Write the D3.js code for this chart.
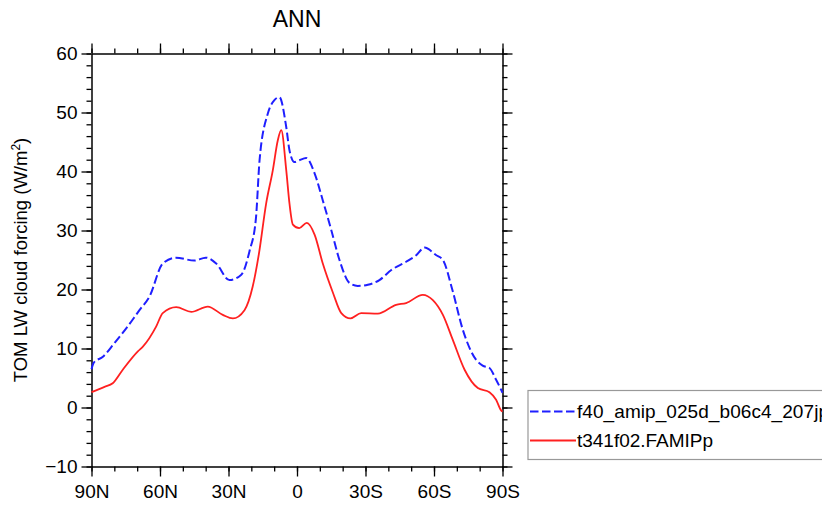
<!DOCTYPE html>
<html>
<head>
<meta charset="utf-8">
<script src="https://cdn.jsdelivr.net/npm/d3@7"></script>
<style>
  body { margin: 0; background: #fff; overflow: hidden; }
  svg { display: block; font-family: "Liberation Sans", Arial, Helvetica, sans-serif; }
</style>
</head>
<body>
<div id="chart"></div>
<script>
// latitudes (N positive) and TOM LW cloud forcing
const latBlue = [90, 89, 85, 80, 74.8, 69, 64.6, 58.8, 53, 45, 40, 35.4, 29.6, 24.4, 20.8, 18, 16.4, 12.8, 9.9, 7.7, 4.7, 3.3, 1.1, -1, -4, -7.7, -11.3, -15, -18.6, -23, -26.6, -31, -36.1, -41.3, -47.8, -52.2, -55.8, -61, -63.9, -68, -72.6, -78.4, -81.3, -84.3, -87.2, -89.4, -90];
const valBlue = [6.5, 7.6, 8.6, 10.9, 13.4, 16.5, 18.8, 24.4, 25.4, 24.9, 25.4, 24.4, 21.6, 22.5, 26.5, 32, 41.9, 49.8, 52.1, 52.6, 47.5, 43.6, 41.6, 41.9, 42.3, 39.7, 35.1, 30.1, 25, 21.1, 20.6, 20.8, 21.6, 23.3, 24.7, 25.8, 27.1, 25.8, 25, 20, 13.2, 8.1, 7.1, 6.7, 4.7, 3.0, 2.5];

const latRed = [90, 89.4, 84.3, 80.7, 76.3, 69.7, 67.5, 61.7, 58.8, 52.9, 46.3, 39.1, 32.5, 28.1, 23, 19.4, 16.7, 13.5, 10.6, 8.4, 6.9, 4.7, 3.3, 1.8, -1, -4.3, -7.7, -11.3, -15.7, -19.4, -23.4, -28.1, -35.4, -43.4, -47.8, -55.1, -59.5, -63.9, -68.2, -73.4, -79.2, -84.3, -87.2, -89.4, -90];
const valRed = [2.6, 2.7, 3.5, 4.1, 6.4, 9.5, 10.3, 13.7, 16, 17, 16.2, 17.1, 15.7, 15.1, 16.5, 20.5, 26, 34.6, 40.2, 45.3, 47, 40.2, 34.6, 31, 30.4, 31.3, 29.3, 24.4, 19.5, 16, 15.1, 16, 15.9, 17.4, 17.7, 19.1, 18.2, 15.7, 11.5, 6.4, 3.3, 2.6, 1.3, -0.5, -0.7];

const seriesNames = ["f40_amip_025d_b06c4_207jp", "t341f02.FAMIPp"];
const xTicks = [90, 60, 30, 0, -30, -60, -90];
const xTickLabels = ["90N", "60N", "30N", "0", "30S", "60S", "90S"];
const yTicks = [-10, 0, 10, 20, 30, 40, 50, 60];

const width = 822, height = 510;
const margin = {top: 53.5, right: 319.5, bottom: 43.5, left: 91.5};

const svg = d3.select("#chart").append("svg")
    .attr("width", width)
    .attr("height", height);

const x = d3.scaleLinear()
    .domain([90, -90])
    .range([margin.left, width - margin.right]);

const y = d3.scaleLinear()
    .domain([-10, 60])
    .range([height - margin.bottom, margin.top]);

const minorX = d3.range(90, -91, -10);
const minorY = d3.range(-10, 61, 2);

// axes, ticks pointing outward on every side
svg.append("g")
    .attr("transform", `translate(0,${height - margin.bottom})`)
    .call(d3.axisBottom(x).tickValues(minorX).tickSize(5).tickFormat(""))
    .call(g => g.select(".domain").remove());
svg.append("g")
    .attr("transform", `translate(0,${height - margin.bottom})`)
    .call(d3.axisBottom(x).tickValues(xTicks).tickSize(10).tickPadding(8).tickSizeOuter(0)
      .tickFormat((d, i) => xTickLabels[i]));

svg.append("g")
    .attr("transform", `translate(0,${margin.top})`)
    .call(d3.axisTop(x).tickValues(minorX).tickSize(5).tickFormat(""))
    .call(g => g.select(".domain").remove());
svg.append("g")
    .attr("transform", `translate(0,${margin.top})`)
    .call(d3.axisTop(x).tickValues(xTicks).tickSize(10).tickSizeOuter(0).tickFormat(""));

svg.append("g")
    .attr("transform", `translate(${margin.left},0)`)
    .call(d3.axisLeft(y).tickValues(minorY).tickSize(5).tickFormat(""))
    .call(g => g.select(".domain").remove());
svg.append("g")
    .attr("transform", `translate(${margin.left},0)`)
    .call(d3.axisLeft(y).tickValues(yTicks).tickSize(10).tickPadding(4).tickSizeOuter(0));

svg.append("g")
    .attr("transform", `translate(${width - margin.right},0)`)
    .call(d3.axisRight(y).tickValues(minorY).tickSize(5).tickFormat(""))
    .call(g => g.select(".domain").remove());
svg.append("g")
    .attr("transform", `translate(${width - margin.right},0)`)
    .call(d3.axisRight(y).tickValues(yTicks).tickSize(10).tickSizeOuter(0).tickFormat(""));

svg.selectAll(".tick line").attr("stroke", "#000").attr("stroke-width", 1.3);
svg.selectAll(".domain").attr("stroke", "#000").attr("stroke-width", 1.5);
svg.selectAll(".tick text")
    .attr("fill", "#000")
    .style("font-size", "19px")
    .style("font-family", "'Liberation Sans', Arial, Helvetica, sans-serif");

const line = d3.line()
    .x(d => x(d[0]))
    .y(d => y(d[1]))
    .curve(d3.curveMonotoneX);

const blue = latBlue.map((d, i) => [d, valBlue[i]]);
const red = latRed.map((d, i) => [d, valRed[i]]);

svg.append("path")
    .datum(blue)
    .attr("fill", "none")
    .attr("stroke", "#1f1fff")
    .attr("stroke-width", 2)
    .attr("stroke-dasharray", "8.5,3.5")
    .attr("d", line);

svg.append("path")
    .datum(red)
    .attr("fill", "none")
    .attr("stroke", "#ff2020")
    .attr("stroke-width", 1.8)
    .attr("d", line);

// title
svg.append("text")
    .attr("x", (margin.left + width - margin.right) / 2)
    .attr("y", 27)
    .attr("text-anchor", "middle")
    .style("font-size", "23px")
    .text("ANN");

// y axis label
const ylab = svg.append("text")
    .attr("transform", `translate(27,${(margin.top + height - margin.bottom) / 2}) rotate(-90)`)
    .attr("text-anchor", "middle")
    .style("font-size", "18.5px");
ylab.append("tspan").text("TOM LW cloud forcing (W/m");
ylab.append("tspan").attr("dy", -7).style("font-size", "12px").text("2");
ylab.append("tspan").attr("dy", 7).text(")");

// legend, runs off the right edge like the original
const legend = svg.append("g");
legend.append("rect")
    .attr("x", 528).attr("y", 390.5)
    .attr("width", 360).attr("height", 69)
    .attr("fill", "none")
    .attr("stroke", "#999")
    .attr("stroke-width", 1.2);

const legendRows = [
  {name: seriesNames[0], color: "#1f1fff", dash: "8.5,3.5", w: 2, yy: 411.5, len: 252},
  {name: seriesNames[1], color: "#ff2020", dash: null, w: 1.8, yy: 440.5, len: 136}
];
legendRows.forEach(r => {
  legend.append("line")
      .attr("x1", 530).attr("x2", 576)
      .attr("y1", r.yy).attr("y2", r.yy)
      .attr("stroke", r.color)
      .attr("stroke-width", r.w)
      .attr("stroke-dasharray", r.dash);
  legend.append("text")
      .attr("x", 577)
      .attr("y", r.yy + 6.5)
      .attr("textLength", r.len)
      .attr("lengthAdjust", "spacing")
      .style("font-size", "19px")
      .text(r.name);
});
</script>
</body>
</html>
